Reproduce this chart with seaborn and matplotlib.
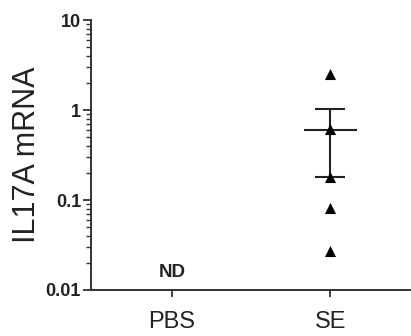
import numpy as np
import pandas as pd
import seaborn as sns
import matplotlib.pyplot as plt
from matplotlib.ticker import LogLocator, FixedLocator, NullFormatter

# data
groups = ['PBS', 'SE']
se_values = [2.5, 0.62, 0.18, 0.082, 0.027]
se_mean = 0.60
se_sem = 0.42
nd_label = 'ND'

df = pd.DataFrame({'group': ['SE'] * len(se_values), 'IL17A': se_values})

sns.set_style('ticks')
plt.rcParams['font.family'] = ['Liberation Sans', 'DejaVu Sans']

fig = plt.figure(figsize=(4.11, 3.36), dpi=100)
ax = fig.add_axes([0.221, 0.137, 0.776, 0.803])

sns.stripplot(data=df, x='group', y='IL17A', order=groups, jitter=False,
              marker='^', color='black', size=8, ax=ax, zorder=3)

ax.set_yscale('log')
ax.set_ylim(0.01, 10)
ax.set_xlim(-0.51, 1.5)

# mean +/- sem
xi = groups.index('SE')
ax.errorbar([xi], [se_mean], yerr=[se_sem], fmt='none', ecolor='#222222',
            elinewidth=1.5, capsize=11, capthick=1.5, zorder=2)
ax.hlines(se_mean, xi - 0.167, xi + 0.167, color='#222222', lw=1.5, zorder=2)

# not detected
ax.text(groups.index('PBS'), 0.0155, nd_label, ha='center', va='center',
        fontsize=13.5, fontweight='bold', color='#222222')

ax.yaxis.set_major_locator(FixedLocator([0.01, 0.1, 1, 10]))
ax.set_yticklabels(['0.01', '0.1', '1', '10'], fontsize=13, fontweight='bold', color='#222222')
ax.yaxis.set_minor_locator(LogLocator(base=10, subs=np.arange(2, 10)))
ax.yaxis.set_minor_formatter(NullFormatter())
ax.tick_params(axis='y', which='major', length=6, width=1.3, color='#333333', pad=1)
ax.tick_params(axis='y', which='minor', length=3.5, width=1.0, color='#333333')
ax.tick_params(axis='x', length=5, width=1.3, color='#333333', labelsize=17, pad=10)
for lab in ax.get_xticklabels():
    lab.set_color('#222222')

ax.set_xlabel('')
ax.set_ylabel('IL17A mRNA', fontsize=22, color='#222222', labelpad=3)

sns.despine(ax=ax)
for sp in ['left', 'bottom']:
    ax.spines[sp].set_linewidth(1.4)
    ax.spines[sp].set_color('#333333')

fig.savefig('out.png', dpi=100)
